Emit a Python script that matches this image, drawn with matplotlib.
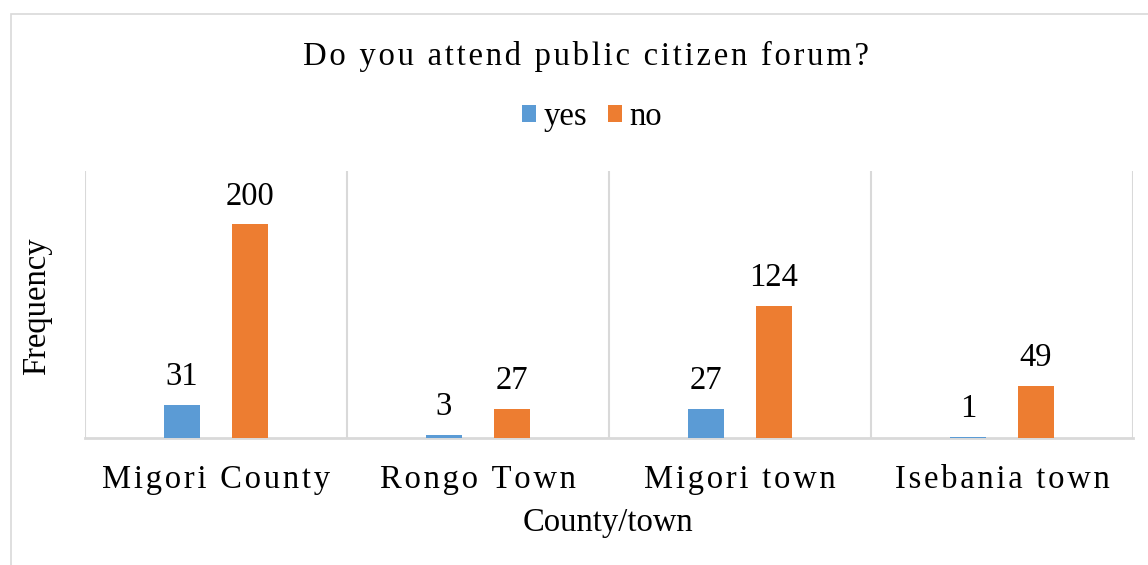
import matplotlib
matplotlib.use('Agg')
import matplotlib.pyplot as plt
from matplotlib.patches import Rectangle
import numpy as np

plt.rcParams['font.family'] = ['Liberation Serif', 'DejaVu Serif']

# survey counts per county/town
places = ['Migori County', 'Rongo Town', 'Migori town', 'Isebania town']
yes_counts = [31, 3, 27, 1]
no_counts = [200, 27, 124, 49]

BLUE = '#5B9BD5'
ORANGE = '#ED7D31'
GRID = '#D9D9D9'
FS = 23.5


def spaced(s, sep='\u200a'):
    # widen the tracking a little, like the office chart style
    return sep.join(s)


W, H = 1148, 565
fig = plt.figure(figsize=(W / 100, H / 100), dpi=100)

# outer chart frame
fig.patches.append(Rectangle((11 / W, -0.1), 1.2, (H - 14) / H + 0.1,
                             transform=fig.transFigure, fill=False,
                             edgecolor=GRID, linewidth=1.2))

left, right, top, base = 85, 1133, 171, 438
ax = fig.add_axes([left / W, (H - base) / H, (right - left) / W, (base - top) / H])

x = np.arange(len(places))
bw = 0.137
off = 0.13
b1 = ax.bar(x - off, yes_counts, bw, color=BLUE, label='yes', zorder=3)
b2 = ax.bar(x + off, no_counts, bw, color=ORANGE, label='no', zorder=3)

for bars, vals in ((b1, yes_counts), (b2, no_counts)):
    for r, v in zip(bars, vals):
        ax.text(r.get_x() + r.get_width() / 2, v + 12, str(v),
                ha='center', va='bottom', fontsize=FS)

ax.set_xlim(-0.5, len(places) - 0.5)
ax.set_ylim(0, 250)
ax.vlines(np.arange(len(places) + 1) - 0.5, 0, 250, color=GRID, linewidth=1.5, zorder=1)

for s in ('top', 'right', 'left'):
    ax.spines[s].set_visible(False)
ax.spines['bottom'].set_color(GRID)
ax.spines['bottom'].set_linewidth(2)
ax.set_yticks([])
ax.set_xticks(x)
ax.set_xticklabels([spaced(p) for p in places], fontsize=FS)
ax.tick_params(axis='x', length=0, pad=19)

fig.text(586 / W, 1 - 56 / H, spaced('Do you attend public citizen forum?'),
         ha='center', va='center', fontsize=FS)
fig.text(608 / W, 1 - 523 / H, 'County/town', ha='center', va='center', fontsize=FS)
fig.text(37 / W, 1 - 306 / H, 'Frequency', ha='center', va='center',
         rotation=90, fontsize=FS)

fig.legend(handles=[b1, b2], labels=['yes', 'no'], loc='center',
           bbox_to_anchor=(592 / W, 1 - 117 / H), ncol=2, frameon=False,
           fontsize=FS, handlelength=0.43, handleheight=0.43, handletextpad=0.22,
           columnspacing=0.65)

fig.savefig('out.png', dpi=100)
